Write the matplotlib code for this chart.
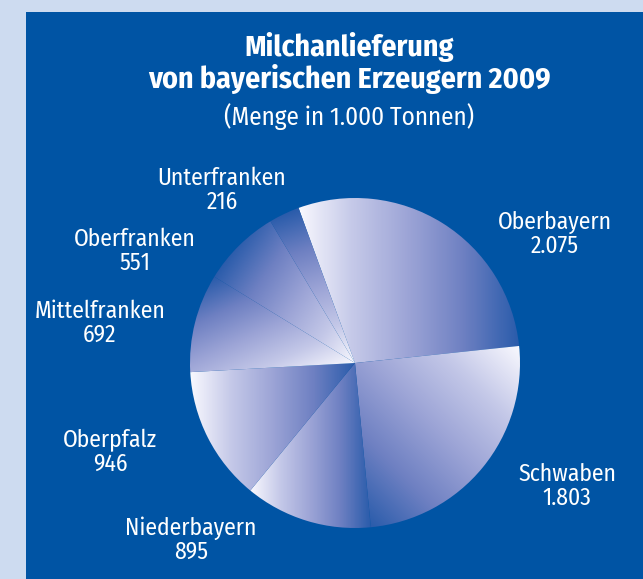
import numpy as np
import matplotlib
matplotlib.use("Agg")
import matplotlib.pyplot as plt
from matplotlib.colors import LinearSegmentedColormap
from matplotlib.patches import Rectangle

# ---- data ----
regions = ["Oberbayern", "Schwaben", "Niederbayern", "Oberpfalz",
           "Mittelfranken", "Oberfranken", "Unterfranken"]
values = [2075, 1803, 895, 946, 692, 551, 216]
title_lines = ["Milchanlieferung", "von bayerischen Erzeugern 2009"]
subtitle = "(Menge in 1.000 Tonnen)"

# gradient direction (light -> dark), degrees
grad_dirs = [0, -135, 0, 0, 115, 145, 110]
# label positions (pixel coords in image, y from top)
label_pos = [(555, 234), (567, 486), (191, 540), (110, 452),
             (100, 323), (135, 251), (222, 190)]

W, H = 643, 579
BG_LIGHT = "#CDDBF0"
BG_BLUE = "#0054A4"

plt.rcParams['font.family'] = ['Fira Sans Condensed', 'DejaVu Sans']

fig = plt.figure(figsize=(W / 100, H / 100), dpi=100, facecolor=BG_LIGHT)
ax = fig.add_axes([0, 0, 1, 1])

cx, cy, R = 355, H - 363, 165
wedges, _ = ax.pie(values, startangle=110, counterclock=False,
                   center=(cx, cy), radius=R,
                   wedgeprops=dict(linewidth=0))

ax.set_xlim(0, W)
ax.set_ylim(0, H)
ax.set_aspect('equal')
ax.axis('off')

ax.add_patch(Rectangle((26, 0), W - 26, H - 12, facecolor=BG_BLUE,
                       edgecolor='none', zorder=0))

cmap = LinearSegmentedColormap.from_list(
    "milk", ["#F8F8FE", "#C4C8E8", "#9CA4D6", "#6E80C2", "#2A5CAB"])

xs = np.linspace(cx - R - 2, cx + R + 2, 400)
ys = np.linspace(cy - R - 2, cy + R + 2, 400)
X, Y = np.meshgrid(xs, ys)
for w, d in zip(wedges, grad_dirs):
    a = np.deg2rad(d)
    P = X * np.cos(a) + Y * np.sin(a)
    v = w.get_path().vertices
    pv = v[:, 0] * np.cos(a) + v[:, 1] * np.sin(a)
    Z = np.clip((P - pv.min()) / (pv.max() - pv.min()), 0, 1)
    im = ax.imshow(Z, cmap=cmap, vmin=0, vmax=1, origin='lower',
                   extent=(xs[0], xs[-1], ys[0], ys[-1]), zorder=2,
                   interpolation='bilinear')
    im.set_clip_path(w)
    w.set_facecolor('none')

for name, val, (lx, ly) in zip(regions, values, label_pos):
    s = f"{val:,}".replace(",", ".")
    ax.text(lx, H - ly, f"{name}\n{s}", color='white', fontsize=17,
            ha='center', va='center', linespacing=1.05, zorder=5)

ax.text(349, H - 47, title_lines[0], color='white', fontsize=21.5,
        fontweight='bold', ha='center', va='center', zorder=5)
ax.text(349, H - 79, title_lines[1], color='white', fontsize=21.5,
        fontweight='bold', ha='center', va='center', zorder=5)
ax.text(349, H - 117, subtitle, color='white', fontsize=18,
        ha='center', va='center', zorder=5)

fig.savefig("out.png", dpi=100, facecolor=BG_LIGHT)
